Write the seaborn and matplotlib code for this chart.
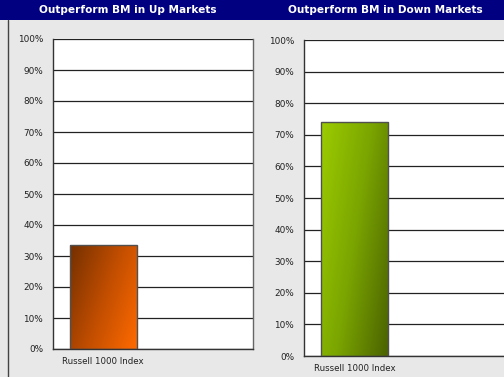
import numpy as np
import pandas as pd
import matplotlib
matplotlib.use("Agg")
import matplotlib.pyplot as plt
import seaborn as sns
from matplotlib.colors import LinearSegmentedColormap

# Data
categories = ["Russell 1000 Index", " "]
up_values = [33.5]
down_values = [74.0]
titles = ["Outperform BM in Up Markets", "Outperform BM in Down Markets"]
y_ticks = list(range(0, 101, 10))

sns.set_style("white")
plt.rcParams["font.family"] = ["DejaVu Sans"]

fig = plt.figure(figsize=(5.04, 3.77), dpi=100)
fig.patch.set_facecolor("#e8e8e8")

# navy header band + left border line
fig.patches.append(plt.Rectangle((0, 357 / 377), 1, 20 / 377, transform=fig.transFigure,
                                 facecolor="#000080", edgecolor="none", zorder=0))
fig.lines.append(plt.Line2D([7.5 / 504, 7.5 / 504], [0, 357 / 377], transform=fig.transFigure,
                            color="#444444", linewidth=1))
fig.text(128 / 504, 367 / 377, titles[0], color="white", fontsize=7.6, fontweight="bold",
         ha="center", va="center")
fig.text(385 / 504, 367 / 377, titles[1], color="white", fontsize=7.6, fontweight="bold",
         ha="center", va="center")

ax1 = fig.add_axes([53 / 504, 28 / 377, 200 / 504, 310 / 377])
ax2 = fig.add_axes([304 / 504, 21 / 377, 202 / 504, 316 / 377])

orange = LinearSegmentedColormap.from_list("orange", ["#743000", "#c04d00", "#ff6a00"])
green = LinearSegmentedColormap.from_list("green", ["#9ccc00", "#7aa400", "#4a6200"])


def gradient_bars(ax, cmap):
    # diagonal gradient: top-left = start of cmap, bottom-right = end
    xx, yy = np.meshgrid(np.linspace(0, 1, 64), np.linspace(0, 1, 64))
    grad = 0.65 * xx + 0.35 * (1 - yy)
    for p in ax.patches:
        x0, y0 = p.get_x(), p.get_y()
        w, h = p.get_width(), p.get_height()
        im = ax.imshow(grad, cmap=cmap, extent=[x0, x0 + w, y0, y0 + h], origin="lower",
                       aspect="auto", zorder=2, interpolation="bicubic")
        im.set_clip_path(p)
        p.set_facecolor("none")
        p.set_edgecolor("#505050")
        p.set_linewidth(1)
        p.set_zorder(3)


for ax, vals, cmap in [(ax1, up_values, orange), (ax2, down_values, green)]:
    df = pd.DataFrame({"name": categories[:len(vals)], "value": vals})
    sns.barplot(data=df, x="name", y="value", order=categories, width=0.67, ax=ax,
                color="#ff6600", zorder=3)
    gradient_bars(ax, cmap)
    ax.set_facecolor("white")
    ax.set_xlim(-0.5, 1.5)
    ax.set_ylim(0, 100)
    ax.set_yticks(y_ticks)
    ax.set_yticklabels([f"{t}%" for t in y_ticks])
    ax.yaxis.grid(True, color="#222222", linewidth=0.9, zorder=1)
    ax.set_axisbelow(True)
    ax.set_xticks([-0.5, 0.5, 1.5])
    ax.set_xticklabels(["", "", ""])
    ax.set_xticks([0], minor=True)
    ax.set_xticklabels([categories[0]], minor=True)
    ax.tick_params(axis="x", which="major", direction="out", length=4, color="#333333", width=1)
    ax.tick_params(axis="x", which="minor", length=0, labelsize=6.2, labelcolor="#222222", pad=6)
    ax.tick_params(axis="y", direction="out", length=4, color="#333333", width=1,
                   labelsize=6.4, labelcolor="#222222", pad=3)
    ax.set_xlabel("")
    ax.set_ylabel("")
    for side in ["left", "bottom"]:
        ax.spines[side].set_color("#333333")
        ax.spines[side].set_linewidth(1)
    ax.spines["top"].set_visible(False)
    ax.spines["right"].set_color("#666666")
    ax.spines["right"].set_linewidth(1)

fig.savefig("out.png", dpi=100, facecolor=fig.get_facecolor())
